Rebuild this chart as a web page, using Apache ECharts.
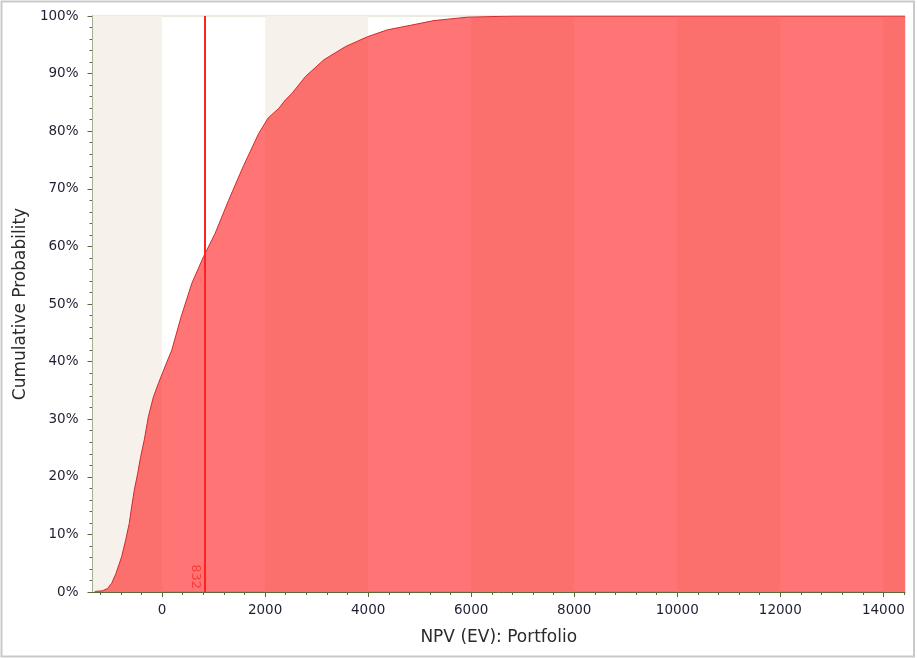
<!DOCTYPE html>
<html>
<head>
<meta charset="utf-8">
<script src="https://cdn.jsdelivr.net/npm/echarts@6/dist/echarts.min.js"></script>
<style>
  html, body { margin: 0; padding: 0; background: #ffffff; }
  #chart { width: 917px; height: 658px; }
</style>
</head>
<body>
<div id="chart"></div>
<script>
// Simulated NPV outcomes for the portfolio: value and cumulative probability
const npvValues = [
  -1305, -1160, -1060, -979, -896, -785, -707, -637, -590, -539, -473, -415, -345,
  -267, -170, -72, 97, 189, 370, 578, 804, 1032, 1291, 1571, 1875, 2060, 2270, 2390,
  2525, 2784, 3141, 3563, 3986, 4375, 4829, 5277, 5933, 6870, 14420
];
const cumulativeProb = [
  0.001, 0.002, 0.006, 0.015, 0.032, 0.061, 0.090, 0.119, 0.148, 0.177, 0.206, 0.235, 0.264,
  0.304, 0.338, 0.362, 0.400, 0.420, 0.478, 0.536, 0.582, 0.623, 0.680, 0.738, 0.796, 0.823, 0.840, 0.854,
  0.866, 0.895, 0.924, 0.947, 0.964, 0.976, 0.984, 0.992, 0.998, 1.000, 1.000
];

// Axis range and tick values
const xMin = -1350;
const xMax = 14420;
const xMajorTicks = [0, 2000, 4000, 6000, 8000, 10000, 12000, 14000];
const xMinorStep = 400;
const yTickStep = 0.1;

// Expected value marker
const expectedNpv = 832;

// Alternating shaded columns every other 2000 interval
const shadedBands = [[xMin, 0], [2000, 4000], [6000, 8000], [10000, 12000], [14000, xMax]];

const xMinorTicks = [];
for (let v = Math.ceil(xMin / xMinorStep) * xMinorStep; v <= xMax; v += xMinorStep) {
  xMinorTicks.push(v);
}

const axisColor = '#5b6a3c';
const labelColor = '#1f1f33';
const fontFamily = '"DejaVu Sans", Verdana, sans-serif';

const chart = echarts.init(document.getElementById('chart'), null, { renderer: 'canvas' });

chart.setOption({
  animation: false,
  backgroundColor: '#ffffff',
  textStyle: { fontFamily: fontFamily },
  graphic: [{
    type: 'rect',
    shape: { x: 1.5, y: 1.5, width: 912.5, height: 655 },
    style: { fill: 'none', stroke: '#c9c9c9', lineWidth: 2 },
    silent: true,
    z: 100
  }],
  grid: {
    left: 92.5,
    right: 12,
    top: 16,
    bottom: 66,
    show: true,
    backgroundColor: '#ffffff',
    borderColor: '#d6d6c2',
    borderWidth: 1
  },
  xAxis: [{
    type: 'value',
    min: xMin,
    max: xMax,
    name: 'NPV (EV): Portfolio',
    nameLocation: 'middle',
    nameGap: 37,
    nameTextStyle: { fontSize: 17, color: '#2b2b2b', fontFamily: fontFamily },
    axisLine: { show: true, onZero: false, lineStyle: { color: axisColor, width: 1 } },
    axisTick: { show: true, customValues: xMajorTicks, length: 5, lineStyle: { color: axisColor } },
    axisLabel: {
      customValues: xMajorTicks,
      margin: 11,
      fontSize: 13.5,
      color: labelColor,
      fontFamily: fontFamily,
      formatter: (v) => String(v)
    },
    splitLine: { show: false }
  }, {
    // minor tick marks along the bottom axis
    type: 'value',
    position: 'bottom',
    min: xMin,
    max: xMax,
    axisLine: { show: false, onZero: false },
    axisTick: { show: true, customValues: xMinorTicks, length: 3, lineStyle: { color: axisColor } },
    axisLabel: { show: false },
    splitLine: { show: false }
  }],
  yAxis: {
    type: 'value',
    min: 0,
    max: 1,
    interval: yTickStep,
    name: 'Cumulative Probability',
    nameLocation: 'middle',
    nameGap: 60,
    nameTextStyle: { fontSize: 17, color: '#2b2b2b', fontFamily: fontFamily },
    axisLine: { show: true, onZero: false, lineStyle: { color: axisColor, width: 1 } },
    axisTick: { show: true, length: 5, lineStyle: { color: axisColor } },
    minorTick: { show: true, splitNumber: 5, length: 3, lineStyle: { color: axisColor } },
    axisLabel: {
      margin: 14,
      fontSize: 13.5,
      color: labelColor,
      fontFamily: fontFamily,
      formatter: (v) => Math.round(v * 100) + '%'
    },
    splitLine: { show: false },
    minorSplitLine: { show: false }
  },
  series: [{
    type: 'line',
    xAxisIndex: 0,
    yAxisIndex: 0,
    data: npvValues.map((v, i) => [v, cumulativeProb[i]]),
    showSymbol: false,
    symbol: 'none',
    smooth: false,
    lineStyle: { color: '#cf2b2b', width: 1 },
    areaStyle: { color: 'rgba(255, 0, 0, 0.54)', opacity: 1, origin: 'start' },
    z: 3,
    markArea: {
      silent: true,
      itemStyle: { color: '#f6f2eb', opacity: 1 },
      data: shadedBands.map(b => [{ xAxis: b[0] }, { xAxis: b[1] }])
    },
    markLine: {
      silent: true,
      symbol: ['none', 'none'],
      lineStyle: { color: '#ff2222', width: 2, type: 'solid', opacity: 1 },
      label: {
        show: true,
        formatter: String(expectedNpv),
        position: 'insideEndBottom',
        distance: 3,
        fontSize: 13,
        color: '#ff3a3a',
        fontFamily: fontFamily
      },
      data: [[{ coord: [expectedNpv, 1] }, { coord: [expectedNpv, 0] }]]
    }
  }]
});
</script>
</body>
</html>
